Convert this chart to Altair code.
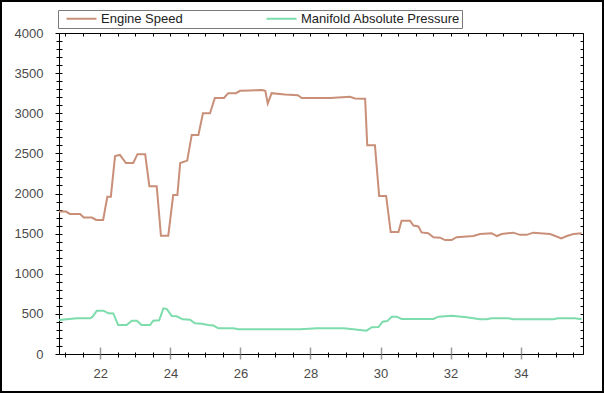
import altair as alt
import pandas as pd

# ---- data ----
es_t = [20.82, 21.02, 21.13, 21.42, 21.53, 21.76, 21.88, 22.08, 22.20, 22.30,
        22.42, 22.56, 22.73, 22.94, 23.06, 23.28, 23.40, 23.61, 23.73, 23.94,
        24.08, 24.20, 24.28, 24.48, 24.61, 24.80, 24.93, 25.13, 25.27, 25.53,
        25.65, 25.87, 25.99, 26.27, 26.62, 26.71, 26.78, 26.89, 27.27, 27.64,
        27.75, 28.56, 29.13, 29.27, 29.51, 29.56, 29.62, 29.84, 29.96, 30.16,
        30.29, 30.51, 30.60, 30.84, 30.94, 31.08, 31.17, 31.36, 31.51, 31.70,
        31.84, 32.03, 32.17, 32.65, 32.84, 33.17, 33.32, 33.46, 33.79, 33.98,
        34.17, 34.36, 34.84, 34.99, 35.16, 35.32, 35.51, 35.74]
es_v = [1775, 1775, 1745, 1745, 1700, 1700, 1670, 1670, 1960, 1960,
        2467, 2480, 2380, 2380, 2490, 2490, 2090, 2090, 1475, 1475,
        1980, 1980, 2380, 2410, 2730, 2730, 3000, 3000, 3190, 3190,
        3250, 3250, 3280, 3285, 3290, 3280, 3120, 3250, 3235, 3225,
        3190, 3190, 3205, 3185, 3180, 3180, 2600, 2600, 1970, 1970,
        1520, 1520, 1660, 1660, 1600, 1590, 1515, 1505, 1455, 1450,
        1420, 1420, 1455, 1470, 1495, 1505, 1470, 1495, 1512, 1485,
        1485, 1512, 1495, 1470, 1440, 1470, 1495, 1505]

map_t = [20.82, 21.04, 21.33, 21.71, 21.78, 21.90, 22.09, 22.23, 22.37, 22.51,
         22.75, 22.90, 23.04, 23.18, 23.42, 23.51, 23.68, 23.80, 23.90, 24.04,
         24.18, 24.35, 24.56, 24.70, 24.89, 25.08, 25.23, 25.37, 25.80, 25.94,
         27.70, 28.18, 28.94, 29.22, 29.60, 29.75, 29.94, 30.06, 30.19, 30.32,
         30.46, 30.60, 31.51, 31.65, 32.03, 32.46, 32.84, 33.03, 33.17, 33.65,
         33.79, 34.93, 35.07, 35.55, 35.74]
map_v = [424, 432, 445, 445, 465, 540, 540, 507, 505, 361,
         361, 415, 415, 361, 361, 415, 420, 569, 560, 473,
         470, 432, 428, 382, 378, 361, 355, 320, 320, 308,
         308, 320, 320, 308, 291, 333, 335, 403, 410, 465,
         465, 436, 436, 465, 477, 457, 432, 432, 445, 445,
         432, 432, 445, 445, 432]

series_names = ["Engine Speed", "Manifold Absolute Pressure"]
series_colors = ["#c98f78", "#7ddcab"]

x_domain = [20.82, 35.78]
y_domain = [0, 4000]
x_tick_values = [21 + 0.5 * i for i in range(30)]      # 21.0 .. 35.5
y_tick_values = [100 * i for i in range(41)]           # 0 .. 4000

df = pd.concat([
    pd.DataFrame({"t": es_t, "v": es_v, "series": series_names[0]}),
    pd.DataFrame({"t": map_t, "v": map_v, "series": series_names[1]}),
], ignore_index=True)

# ---- layout ----
W, H = 602, 391          # view = whole canvas minus 1px padding
X0, X1 = 58, 582         # plot area in view coordinates
Y0, Y1 = 32, 353
FONT = "Liberation Sans"

xs = alt.Scale(domain=x_domain, range=[X0, X1], nice=False, zero=False)
ys = alt.Scale(domain=y_domain, range=[Y1, Y0], nice=False, zero=False)

x_major = "datum.value % 2 === 0"
y_major = "datum.value % 500 === 0"

def cond(test, a, b):
    return {"condition": {"test": test, "value": a}, "value": b}

common = dict(grid=False, title=None, labelOverlap=False, labelFlush=False)

# main axes (bottom / left) with labels
x_main = alt.Axis(orient="bottom", offset=-(H - Y1), values=x_tick_values,
                  labelExpr=f"{x_major} ? format(datum.value, 'd') : ''",
                  tickSize=cond(x_major, 5, 3), tickColor=cond(x_major, "#9a9a9a", "#000000"),
                  tickWidth=cond(x_major, 1.5, 1),
                  domainColor="#000000", labelFont=FONT, labelFontSize=13,
                  labelColor="#4a4a4a", labelPadding=8, **common)
y_main = alt.Axis(orient="left", offset=-X0, values=y_tick_values,
                  labelExpr=f"{y_major} ? format(datum.value, 'd') : ''",
                  tickSize=cond(y_major, 4, 3), tickColor="#000000",
                  domainColor="#000000", labelFont=FONT, labelFontSize=13,
                  labelColor="#4a4a4a", labelPadding=12, **common)

# inner halves of the crossing ticks
x_in = alt.Axis(orient="top", offset=-Y1, values=x_tick_values, labels=False, domain=False,
                tickSize=cond(x_major, 7, 2), tickColor=cond(x_major, "#9a9a9a", "#000000"),
                tickWidth=cond(x_major, 1.5, 1), **common)
y_in = alt.Axis(orient="right", offset=-(W - X0), values=y_tick_values, labels=False,
                domain=False, tickSize=3, tickColor="#000000", **common)

# top / right frame axes with inward ticks
x_top = alt.Axis(orient="bottom", offset=-(H - Y0), values=x_tick_values, labels=False,
                 tickSize=3, tickColor="#000000", domainColor="#000000", **common)
y_right = alt.Axis(orient="left", offset=-X1, values=y_tick_values, labels=False,
                   tickSize=3, tickColor="#000000", domainColor="#000000", **common)

base = alt.Chart(df)

lines = base.mark_line(strokeWidth=2, interpolate="linear").encode(
    x=alt.X("t:Q", scale=xs, axis=x_main),
    y=alt.Y("v:Q", scale=ys, axis=y_main),
    color=alt.Color("series:N",
                    scale=alt.Scale(domain=series_names, range=series_colors),
                    legend=alt.Legend(orient="none", legendX=57, legendY=9,
                                      direction="horizontal", title=None,
                                      strokeColor="#7a7a7a", padding=2,
                                      gridAlign="all", columnPadding=-5,
                                      symbolType="M0,0H6", symbolSize=100,
                                      symbolOffset=0,
                                      symbolStrokeWidth=2, labelOffset=28,
                                      labelFont=FONT, labelFontSize=13,
                                      labelColor="#222222", labelLimit=300)),
    detail="series:N",
)

ghost2 = base.mark_line(opacity=0).encode(
    x=alt.X("t:Q", scale=xs, axis=x_in),
    y=alt.Y("v:Q", scale=ys, axis=y_in),
    detail="series:N",
)
ghost3 = base.mark_line(opacity=0).encode(
    x=alt.X("t:Q", scale=xs, axis=x_top),
    y=alt.Y("v:Q", scale=ys, axis=y_right),
    detail="series:N",
)

chart = alt.layer(lines, ghost2, ghost3).resolve_scale(
    x="shared", y="shared"
).resolve_axis(
    x="independent", y="independent"
).properties(
    width=W, height=H,
    autosize=alt.AutoSizeParams(type="none"),
    padding={"left": 1, "top": 1, "right": 1, "bottom": 1},
    background="#ffffff",
).configure_view(
    stroke="#000000", strokeWidth=2, fill="#ffffff"
)

chart.save("out.html", embed_options={"renderer": "svg", "actions": False})
